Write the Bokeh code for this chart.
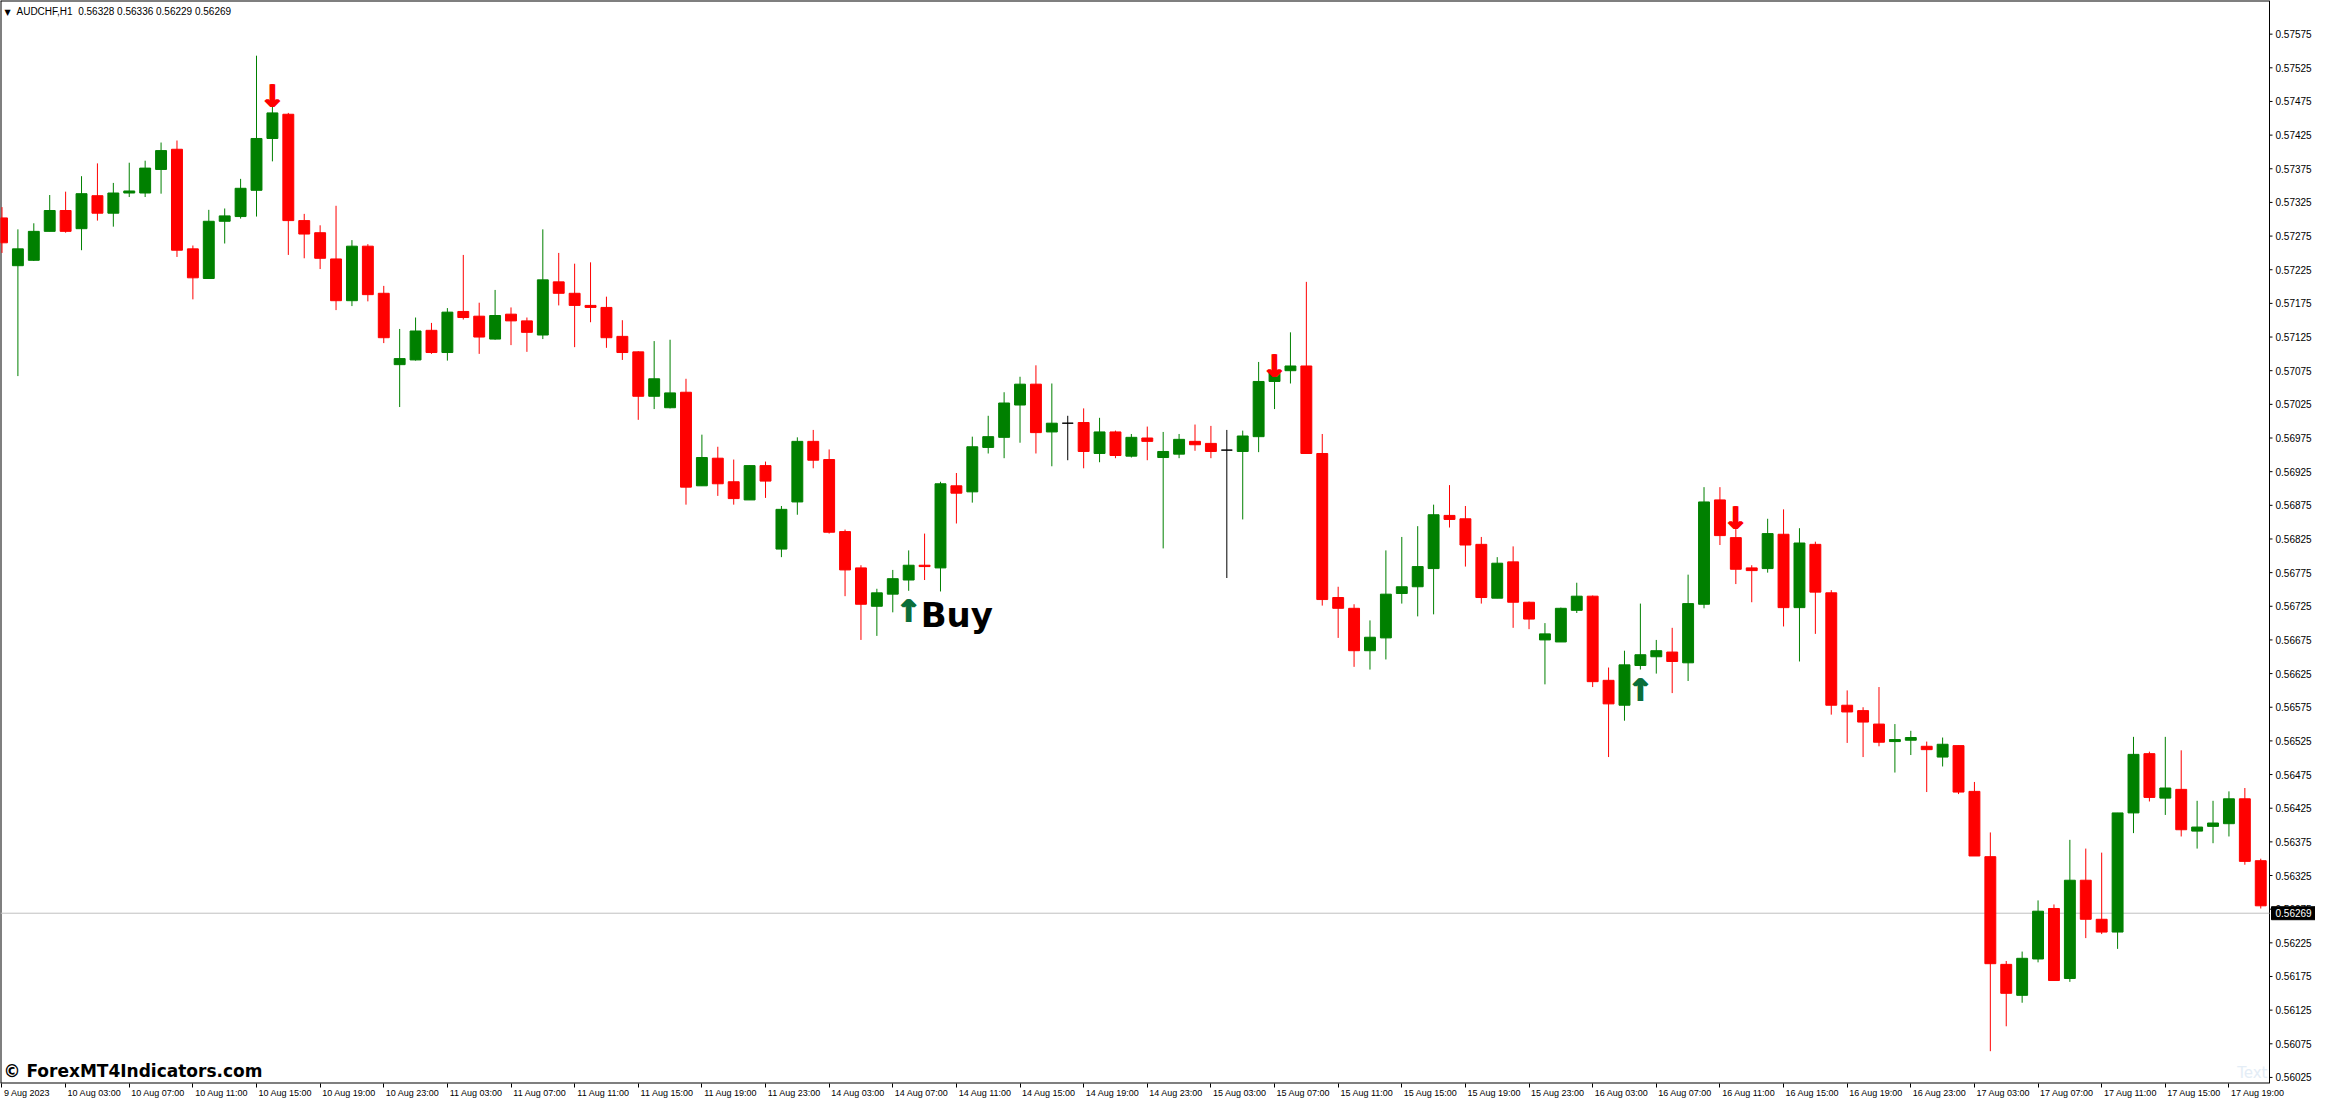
from bokeh.plotting import figure
from bokeh.models import FixedTicker, LinearAxis, ColumnDataSource
from bokeh.core.properties import value
from bokeh.embed import file_html
from bokeh.resources import INLINE

# ---- data (AUDCHF H1, 9 Aug 23:00 .. 17 Aug 21:00) ----
opens = [0.57302, 0.57231, 0.57239, 0.57282, 0.57313, 0.57286, 0.57335, 0.57309, 0.57339, 0.57339,
         0.57374, 0.57404, 0.57256, 0.57212, 0.57297, 0.57304, 0.57343, 0.57420, 0.57456, 0.57298,
         0.57280, 0.57241, 0.57179, 0.57260, 0.57190, 0.57084, 0.57091, 0.57135, 0.57102, 0.57163,
         0.57156, 0.57122, 0.57159, 0.57149, 0.57128, 0.57207, 0.57190, 0.57172, 0.57169, 0.57126,
         0.57103, 0.57037, 0.57020, 0.57043, 0.56904, 0.56945, 0.56910, 0.56883, 0.56934, 0.56810,
         0.56880, 0.56970, 0.56943, 0.56836, 0.56782, 0.56725, 0.56743, 0.56764, 0.56786, 0.56782,
         0.56904, 0.56895, 0.56961, 0.56976, 0.57024, 0.57055, 0.56984, 0.56997, 0.56998, 0.56952,
         0.56984, 0.56948, 0.56975, 0.56946, 0.56951, 0.56970, 0.56967, 0.56957, 0.56955, 0.56977,
         0.57059, 0.57075, 0.57082, 0.56952, 0.56738, 0.56722, 0.56659, 0.56678, 0.56744, 0.56754,
         0.56781, 0.56860, 0.56855, 0.56817, 0.56737, 0.56791, 0.56731, 0.56675, 0.56672, 0.56719,
         0.56740, 0.56615, 0.56578, 0.56637, 0.56650, 0.56657, 0.56641, 0.56728, 0.56883, 0.56827,
         0.56782, 0.56781, 0.56832, 0.56723, 0.56817, 0.56745, 0.56578, 0.56570, 0.56550, 0.56524,
         0.56526, 0.56517, 0.56501, 0.56518, 0.56450, 0.56353, 0.56193, 0.56147, 0.56201, 0.56276,
         0.56172, 0.56318, 0.56260, 0.56241, 0.56418, 0.56506, 0.56440, 0.56453, 0.56391, 0.56398,
         0.56402, 0.56439, 0.56347]
highs = [0.57318, 0.57285, 0.57294, 0.57336, 0.57341, 0.57364, 0.57383, 0.57354, 0.57384, 0.57387,
         0.57414, 0.57417, 0.57261, 0.57314, 0.57316, 0.57360, 0.57543, 0.57475, 0.57458, 0.57308,
         0.57291, 0.57320, 0.57269, 0.57263, 0.57201, 0.57137, 0.57154, 0.57146, 0.57168, 0.57247,
         0.57176, 0.57195, 0.57169, 0.57154, 0.57285, 0.57250, 0.57234, 0.57236, 0.57185, 0.57150,
         0.57104, 0.57119, 0.57121, 0.57063, 0.56980, 0.56962, 0.56943, 0.56934, 0.56940, 0.56874,
         0.56976, 0.56987, 0.56958, 0.56839, 0.56786, 0.56751, 0.56779, 0.56808, 0.56833, 0.56910,
         0.56923, 0.56977, 0.57008, 0.57043, 0.57066, 0.57083, 0.57056, 0.57008, 0.57019, 0.57005,
         0.56986, 0.56981, 0.56992, 0.56984, 0.56981, 0.56995, 0.56993, 0.56987, 0.56986, 0.57088,
         0.57074, 0.57132, 0.57207, 0.56981, 0.56754, 0.56728, 0.56704, 0.56808, 0.56828, 0.56844,
         0.56876, 0.56905, 0.56874, 0.56828, 0.56798, 0.56814, 0.56732, 0.56700, 0.56723, 0.56760,
         0.56741, 0.56634, 0.56659, 0.56729, 0.56675, 0.56693, 0.56772, 0.56902, 0.56902, 0.56849,
         0.56786, 0.56855, 0.56869, 0.56841, 0.56821, 0.56749, 0.56600, 0.56575, 0.56605, 0.56550,
         0.56540, 0.56524, 0.56530, 0.56518, 0.56464, 0.56389, 0.56198, 0.56212, 0.56288, 0.56282,
         0.56378, 0.56365, 0.56359, 0.56418, 0.56531, 0.56509, 0.56531, 0.56511, 0.56436, 0.56436,
         0.56450, 0.56455, 0.56350]
lows = [0.57250, 0.57067, 0.57238, 0.57282, 0.57280, 0.57254, 0.57298, 0.57289, 0.57333, 0.57333,
        0.57338, 0.57244, 0.57181, 0.57212, 0.57264, 0.57301, 0.57304, 0.57386, 0.57247, 0.57242,
        0.57226, 0.57165, 0.57171, 0.57178, 0.57116, 0.57021, 0.57090, 0.57100, 0.57090, 0.57151,
        0.57100, 0.57121, 0.57113, 0.57103, 0.57122, 0.57172, 0.57110, 0.57147, 0.57109, 0.57091,
        0.57002, 0.57018, 0.57019, 0.56876, 0.56904, 0.56889, 0.56876, 0.56883, 0.56886, 0.56798,
        0.56861, 0.56930, 0.56833, 0.56740, 0.56675, 0.56681, 0.56716, 0.56748, 0.56764, 0.56747,
        0.56848, 0.56879, 0.56952, 0.56945, 0.56968, 0.56952, 0.56933, 0.56942, 0.56930, 0.56939,
        0.56945, 0.56946, 0.56942, 0.56811, 0.56945, 0.56956, 0.56945, 0.56767, 0.56854, 0.56954,
        0.57018, 0.57056, 0.56952, 0.56726, 0.56678, 0.56635, 0.56631, 0.56646, 0.56729, 0.56710,
        0.56713, 0.56842, 0.56784, 0.56729, 0.56737, 0.56693, 0.56691, 0.56609, 0.56672, 0.56715,
        0.56605, 0.56501, 0.56555, 0.56631, 0.56625, 0.56596, 0.56614, 0.56722, 0.56816, 0.56758,
        0.56731, 0.56775, 0.56695, 0.56643, 0.56684, 0.56564, 0.56522, 0.56501, 0.56517, 0.56478,
        0.56504, 0.56449, 0.56487, 0.56446, 0.56354, 0.56064, 0.56101, 0.56136, 0.56196, 0.56169,
        0.56167, 0.56232, 0.56238, 0.56216, 0.56388, 0.56435, 0.56415, 0.56383, 0.56365, 0.56373,
        0.56383, 0.56341, 0.56276]
closes = [0.57265, 0.57256, 0.57282, 0.57313, 0.57282, 0.57338, 0.57309, 0.57339, 0.57342, 0.57376,
          0.57402, 0.57254, 0.57213, 0.57297, 0.57305, 0.57346, 0.57420, 0.57458, 0.57298, 0.57278,
          0.57242, 0.57179, 0.57260, 0.57188, 0.57124, 0.57093, 0.57134, 0.57102, 0.57162, 0.57154,
          0.57125, 0.57157, 0.57149, 0.57132, 0.57210, 0.57190, 0.57172, 0.57169, 0.57124, 0.57102,
          0.57037, 0.57063, 0.57042, 0.56902, 0.56946, 0.56907, 0.56885, 0.56934, 0.56911, 0.56869,
          0.56970, 0.56942, 0.56835, 0.56779, 0.56728, 0.56745, 0.56766, 0.56786, 0.56784, 0.56907,
          0.56893, 0.56962, 0.56977, 0.57027, 0.57055, 0.56983, 0.56997, 0.56997, 0.56955, 0.56984,
          0.56949, 0.56976, 0.56970, 0.56955, 0.56973, 0.56965, 0.56955, 0.56957, 0.56978, 0.57059,
          0.57074, 0.57082, 0.56952, 0.56735, 0.56722, 0.56659, 0.56679, 0.56743, 0.56754, 0.56784,
          0.56861, 0.56854, 0.56816, 0.56738, 0.56789, 0.56731, 0.56706, 0.56684, 0.56722, 0.56740,
          0.56613, 0.56580, 0.56638, 0.56653, 0.56659, 0.56643, 0.56729, 0.56880, 0.56830, 0.56780,
          0.56778, 0.56833, 0.56723, 0.56819, 0.56746, 0.56578, 0.56568, 0.56553, 0.56523, 0.56527,
          0.56530, 0.56512, 0.56520, 0.56449, 0.56354, 0.56194, 0.56150, 0.56202, 0.56272, 0.56169,
          0.56318, 0.56260, 0.56241, 0.56418, 0.56505, 0.56441, 0.56455, 0.56393, 0.56397, 0.56403,
          0.56439, 0.56346, 0.56280]

sell_signal_bars = [17, 80, 109]
buy_signal_bars = [57, 103]
buy_label_bar = 57

x_tick_labels = ["9 Aug 2023",
                 "10 Aug 03:00", "10 Aug 07:00", "10 Aug 11:00", "10 Aug 15:00", "10 Aug 19:00", "10 Aug 23:00",
                 "11 Aug 03:00", "11 Aug 07:00", "11 Aug 11:00", "11 Aug 15:00", "11 Aug 19:00", "11 Aug 23:00",
                 "14 Aug 03:00", "14 Aug 07:00", "14 Aug 11:00", "14 Aug 15:00", "14 Aug 19:00", "14 Aug 23:00",
                 "15 Aug 03:00", "15 Aug 07:00", "15 Aug 11:00", "15 Aug 15:00", "15 Aug 19:00", "15 Aug 23:00",
                 "16 Aug 03:00", "16 Aug 07:00", "16 Aug 11:00", "16 Aug 15:00", "16 Aug 19:00", "16 Aug 23:00",
                 "17 Aug 03:00", "17 Aug 07:00", "17 Aug 11:00", "17 Aug 15:00", "17 Aug 19:00"]
price_tick_labels = ["0.56025", "0.56075", "0.56125", "0.56175", "0.56225", "0.56275", "0.56325", "0.56375",
                     "0.56425", "0.56475", "0.56525", "0.56575", "0.56625", "0.56675", "0.56725", "0.56775",
                     "0.56825", "0.56875", "0.56925", "0.56975", "0.57025", "0.57075", "0.57125", "0.57175",
                     "0.57225", "0.57275", "0.57325", "0.57375", "0.57425", "0.57475", "0.57525", "0.57575"]
header_text = "AUDCHF,H1\u00a0\u00a00.56328 0.56336 0.56229 0.56269"
current_price = 0.56269
current_price_text = "0.56269"

# ---- layout constants ----
GREEN = "#008000"
RED = "#ff0000"
ARROW_GREEN = "#0b6e3a"
FRAME_W, FRAME_H = 2315, 1083
CHART_W = 2269            # px of the candle area; the rest is the price scale
SCALE_W = FRAME_W - CHART_W
x0, x1 = -0.094, 142.55   # candle area in bar units
PPB = CHART_W / (x1 - x0)  # px per bar
xe = x1 + SCALE_W / PPB
y0, y1 = 0.56016, 0.57625

n = len(opens)
idx = list(range(n))
colors = [GREEN if c > o else (RED if c < o else "#000000") for o, c in zip(opens, closes)]
src = ColumnDataSource(dict(
    x=idx, o=opens, h=highs, l=lows, c=closes,
    top=[max(o, c) for o, c in zip(opens, closes)],
    bottom=[min(o, c) for o, c in zip(opens, closes)],
    color=colors))

p = figure(frame_width=FRAME_W, frame_height=FRAME_H, x_range=(x0, xe), y_range=(y0, y1),
           y_axis_location=None, output_backend="svg", toolbar_location=None,
           min_border_left=0, min_border_top=0, min_border_right=0, min_border_bottom=0)
p.background_fill_color = "white"
p.border_fill_color = "white"
p.outline_line_color = None
p.xgrid.visible = False
p.ygrid.visible = False

# time axis: tick marks on the bars (no labels of its own)
tick_pos = list(range(0, 4 * len(x_tick_labels), 4))
p.xaxis.ticker = FixedTicker(ticks=tick_pos)
p.xaxis.major_label_text_font_size = "1px"
p.xaxis.major_label_text_color = None
p.xaxis.major_label_standoff = 0
p.xaxis.major_tick_in = 0
p.xaxis.major_tick_out = 4
p.xaxis.minor_tick_line_color = None
p.xaxis.axis_line_color = None
p.xaxis.major_tick_line_color = "black"

# time labels: each starts just right of its tick, as in the terminal
CW = {"0": .556, "1": .556, "2": .556, "3": .556, "4": .556, "5": .556, "6": .556, "7": .556,
      "8": .556, "9": .556, " ": .278, ":": .278, "A": .667, "u": .556, "g": .556}
LBL_PX = 9
label_pos = []
for t, s in zip(tick_pos, x_tick_labels):
    w = sum(CW.get(ch, .556) for ch in s) * LBL_PX
    label_pos.append(round(t + (w / 2 + 2) / PPB, 4))
lab_axis = LinearAxis(ticker=FixedTicker(ticks=label_pos),
                      major_label_overrides={q: s for q, s in zip(label_pos, x_tick_labels)},
                      major_label_text_font="Liberation Sans", major_label_text_font_size=f"{LBL_PX}px",
                      major_label_text_color="black", major_label_standoff=0,
                      major_tick_in=0, major_tick_out=0, minor_tick_line_color=None,
                      axis_line_color=None, major_tick_line_color=None)
p.add_layout(lab_axis, "below")

# chart border
p.segment(x0=[x0, x0, x0], y0=[y0, y1, y0], x1=[x1, x1, x0], y1=[y0, y1, y1],
          line_color="black", line_width=2)
p.segment(x0=[x1], y0=[y0], x1=[x1], y1=[y1], line_color="black", line_width=1)

# price scale (right of the chart border)
price_ticks = [float(s) for s in price_tick_labels]
p.segment(x0=[x1] * len(price_ticks), y0=price_ticks, x1=[x1 + 3 / PPB] * len(price_ticks), y1=price_ticks,
          line_color="black", line_width=1)
p.text(x=[x1] * len(price_ticks), y=price_ticks, text=price_tick_labels, text_color="black",
       text_align="left", text_baseline="middle", text_font=value("Liberation Sans"),
       text_font_size="10px", x_offset=6)

# current price line and box
p.segment(x0=[x0], y0=[current_price], x1=[x1], y1=[current_price], line_color="#c0c0c0", line_width=1)
p.rect(x=[x1 + (SCALE_W / 2 + 1) / PPB], y=[current_price], width=SCALE_W - 2, height=13,
       width_units="screen", height_units="screen", fill_color="black", line_color="black")
p.text(x=[x1], y=[current_price], text=[current_price_text], text_color="white",
       text_align="left", text_baseline="middle", text_font=value("Liberation Sans"),
       text_font_size="10px", x_offset=6)

# candles
p.segment(x0="x", y0="l", x1="x", y1="h", color="color", line_width=1, source=src)
p.vbar(x="x", width=0.686, top="top", bottom="bottom", fill_color="color",
       line_color="color", line_width=1, source=src)

# signal arrows (drawn side by side to thicken the stroke)
for dx in (-1, 0, 1):
    p.text(x=sell_signal_bars, y=[highs[i] for i in sell_signal_bars], text=["\u2193"] * len(sell_signal_bars),
           text_color=RED, text_align="center", text_baseline="bottom", text_font=value("DejaVu Sans"),
           text_font_size="31px", text_font_style="bold", x_offset=dx, y_offset=13)
    p.text(x=buy_signal_bars, y=[lows[i] for i in buy_signal_bars], text=["\u2191"] * len(buy_signal_bars),
           text_color=ARROW_GREEN, text_align="center", text_baseline="top", text_font=value("DejaVu Sans"),
           text_font_size="31px", text_font_style="bold", x_offset=dx, y_offset=2)
p.text(x=[buy_label_bar], y=[lows[buy_label_bar]], text=["Buy"], text_color="black",
       text_align="left", text_baseline="top", text_font=value("DejaVu Sans"),
       text_font_size="34px", text_font_style="bold", x_offset=12, y_offset=4)

# header and watermarks
p.text(x=[x0], y=[y1], text=["\u25bc"], text_color="black", text_align="left", text_baseline="top",
       text_font=value("DejaVu Sans"), text_font_size="8px", x_offset=4, y_offset=7)
p.text(x=[x0], y=[y1], text=[header_text], text_color="black", text_align="left", text_baseline="top",
       text_font=value("Liberation Sans"), text_font_size="10px", x_offset=16, y_offset=5)
p.text(x=[x0], y=[y0], text=["\u00a9 ForexMT4Indicators.com"], text_color="black", text_align="left",
       text_baseline="bottom", text_font=value("DejaVu Sans"), text_font_size="17px",
       text_font_style="bold", x_offset=3, y_offset=-3)
p.text(x=[x1], y=[y0], text=["Text"], text_color="#e4edf6", text_align="right",
       text_baseline="bottom", text_font=value("DejaVu Sans"), text_font_size="15px",
       x_offset=-2, y_offset=-2)

open("out.html", "w").write(file_html(p, INLINE))
